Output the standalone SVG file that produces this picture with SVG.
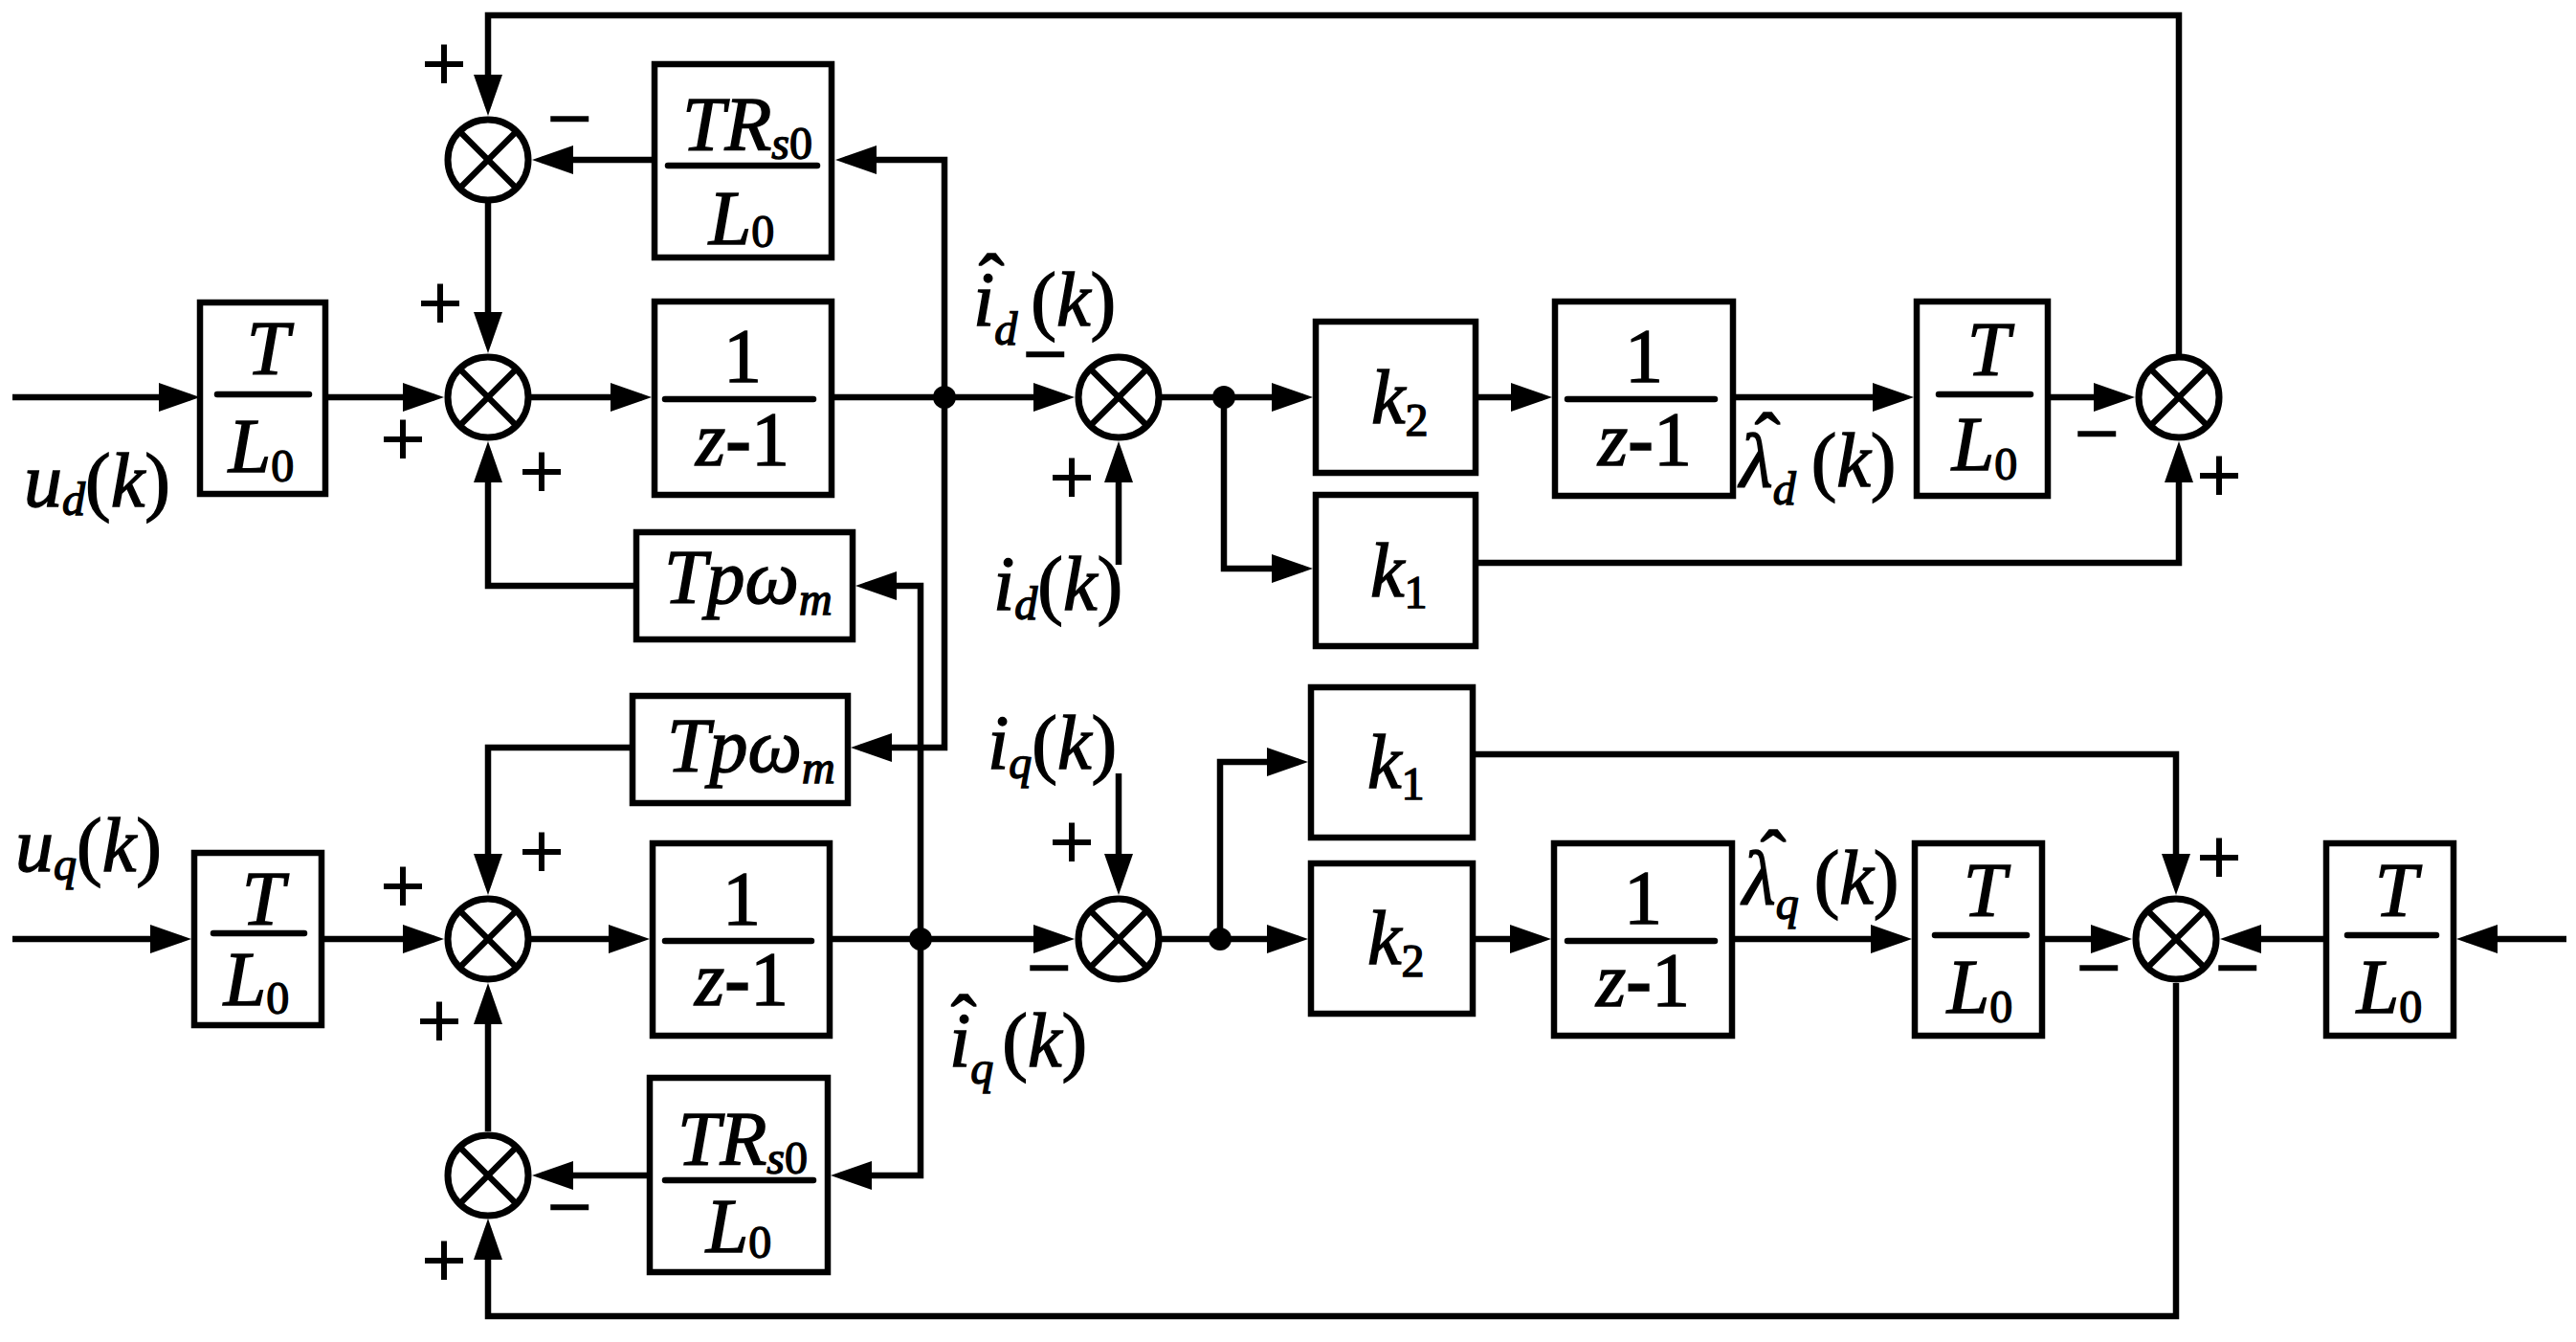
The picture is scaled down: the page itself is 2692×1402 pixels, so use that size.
<svg xmlns="http://www.w3.org/2000/svg" width="2692" height="1402" viewBox="0 0 2692 1402">
<style>
.ln{fill:none;stroke:#000;stroke-width:6.5;stroke-linejoin:miter}
.bx{fill:#fff;stroke:#000;stroke-width:6.5}
.sum{fill:#fff;stroke:#000;stroke-width:7}
.x{stroke:#000;stroke-width:6.5}
.bar{stroke:#000;stroke-width:6.5;stroke-linecap:round}
text{font-family:'Liberation Serif','Times New Roman','DejaVu Serif',serif;fill:#000;stroke:#000;stroke-width:1.4px}
.t{font-size:80px;font-style:italic}
.n{font-style:normal}
.s{font-size:48px}
.b{font-weight:bold}
.sg{font-size:86px;font-style:normal;font-weight:bold;text-anchor:middle;stroke-width:0}
.hat{font-size:80px;font-style:normal;text-anchor:middle}
.m{text-anchor:middle}
</style>
<defs>
<marker id="arr" markerUnits="userSpaceOnUse" markerWidth="44" markerHeight="30" refX="33" refY="15" orient="auto">
<path d="M0,0 L43,15 L0,30 Z" fill="#000"/>
</marker>
<g id="sumshape">
<circle cx="0" cy="0" r="42" class="sum"/>
<line x1="-29.7" y1="-29.7" x2="29.7" y2="29.7" class="x"/>
<line x1="-29.7" y1="29.7" x2="29.7" y2="-29.7" class="x"/>
</g>
</defs>
<rect width="2692" height="1402" fill="#fff"/>

<g id="connectors">
<path class="ln" marker-end="url(#arr)" d="M13,415 H199"/>
<path class="ln" marker-end="url(#arr)" d="M340,415 H454"/>
<path class="ln" marker-end="url(#arr)" d="M552,415 H671"/>
<path class="ln" marker-end="url(#arr)" d="M869,415 H1113"/>
<path class="ln" marker-end="url(#arr)" d="M1212,415 H1362"/>
<path class="ln" marker-end="url(#arr)" d="M1542,415 H1612"/>
<path class="ln" marker-end="url(#arr)" d="M1811,415 H1990"/>
<path class="ln" marker-end="url(#arr)" d="M2140,415 H2221"/>
<path class="ln" marker-end="url(#arr)" d="M2277,370 V16 H510 V111"/>
<path class="ln" marker-end="url(#arr)" d="M510,212 V359"/>
<path class="ln" marker-end="url(#arr)" d="M683,167 H566"/>
<path class="ln" marker-end="url(#arr)" d="M987,415 V167 H883"/>
<path class="ln" marker-end="url(#arr)" d="M987,415 V781 H899"/>
<path class="ln" marker-end="url(#arr)" d="M1279,415 V594 H1362"/>
<path class="ln" marker-end="url(#arr)" d="M1542,588 H2277 V471"/>
<path class="ln" marker-end="url(#arr)" d="M1169,590 V471"/>
<path class="ln" marker-end="url(#arr)" d="M962,981 V612 H904"/>
<path class="ln" marker-end="url(#arr)" d="M665,612 H510 V471"/>

<path class="ln" marker-end="url(#arr)" d="M13,981 H190"/>
<path class="ln" marker-end="url(#arr)" d="M336,981 H454"/>
<path class="ln" marker-end="url(#arr)" d="M552,981 H669"/>
<path class="ln" marker-end="url(#arr)" d="M867,981 H1113"/>
<path class="ln" marker-end="url(#arr)" d="M1169,808 V925"/>
<path class="ln" marker-end="url(#arr)" d="M1212,981 H1357"/>
<path class="ln" marker-end="url(#arr)" d="M1275,981 V796 H1357"/>
<path class="ln" marker-end="url(#arr)" d="M1539,981 H1611"/>
<path class="ln" marker-end="url(#arr)" d="M1810,981 H1988"/>
<path class="ln" marker-end="url(#arr)" d="M2134,981 H2218"/>
<path class="ln" marker-end="url(#arr)" d="M1539,788 H2274 V925"/>
<path class="ln" marker-end="url(#arr)" d="M2682,981 H2577"/>
<path class="ln" marker-end="url(#arr)" d="M2431,981 H2330"/>
<path class="ln" marker-end="url(#arr)" d="M2274,1027 V1375 H510 V1283"/>
<path class="ln" marker-end="url(#arr)" d="M510,1182 V1037"/>
<path class="ln" marker-end="url(#arr)" d="M679,1228 H566"/>
<path class="ln" marker-end="url(#arr)" d="M962,981 V1228 H878"/>
<path class="ln" marker-end="url(#arr)" d="M661,781 H510 V925"/>
<circle cx="987" cy="415" r="12" fill="#000"/>
<circle cx="1279" cy="415" r="12" fill="#000"/>
<circle cx="962" cy="981" r="12" fill="#000"/>
<circle cx="1275" cy="981" r="12" fill="#000"/>
</g>

<g id="sum1"><use href="#sumshape" x="510" y="167"/></g>
<g id="sum2"><use href="#sumshape" x="510" y="415"/></g>
<g id="sum3"><use href="#sumshape" x="1169" y="415"/></g>
<g id="sum4"><use href="#sumshape" x="2277" y="415"/></g>
<g id="sum5"><use href="#sumshape" x="510" y="981"/></g>
<g id="sum6"><use href="#sumshape" x="510" y="1228"/></g>
<g id="sum7"><use href="#sumshape" x="1169" y="981"/></g>
<g id="sum8"><use href="#sumshape" x="2274" y="981"/></g>

<g id="boxA">
<rect x="209" y="316" width="131" height="200" class="bx"/>
<text x="280" y="391" class="t m">T</text>
<line x1="227" y1="412" x2="323" y2="412" class="bar"/>
<text x="273" y="493" class="t m">L<tspan class="s n" dy="10">0</tspan></text>
</g>
<g id="boxB">
<rect x="684" y="315" width="185" height="202" class="bx"/>
<text x="776" y="399" class="t n m">1</text>
<line x1="695" y1="417" x2="850" y2="417" class="bar"/>
<text x="776" y="486" class="t m">z<tspan class="n b">-</tspan><tspan class="n">1</tspan></text>
</g>
<g id="boxE">
<rect x="684" y="67" width="185" height="202" class="bx"/>
<text x="713" y="157" class="t">TR<tspan class="s" dy="9">s</tspan><tspan class="s n">0</tspan></text>
<line x1="698" y1="173" x2="854" y2="173" class="bar"/>
<text x="775" y="255" class="t m">L<tspan class="s n" dy="3">0</tspan></text>
</g>
<g id="boxF">
<rect x="665" y="556" width="226" height="112" class="bx"/>
<text x="694" y="630" class="t">Tpω<tspan class="s" dy="12">m</tspan></text>
</g>
<g id="boxK2d">
<rect x="1375" y="336" width="167" height="158" class="bx"/>
<text x="1433" y="442" class="t">k<tspan class="s n" dy="13">2</tspan></text>
</g>
<g id="boxK1d">
<rect x="1375" y="517" width="167" height="158" class="bx"/>
<text x="1432" y="623" class="t">k<tspan class="s n" dy="12">1</tspan></text>
</g>
<g id="boxC">
<rect x="1625" y="315" width="186" height="203" class="bx"/>
<text x="1718" y="399" class="t n m">1</text>
<line x1="1638" y1="417" x2="1792" y2="417" class="bar"/>
<text x="1719" y="486" class="t m">z<tspan class="n b">-</tspan><tspan class="n">1</tspan></text>
</g>
<g id="boxD">
<rect x="2003" y="315" width="137" height="203" class="bx"/>
<text x="2078" y="392" class="t m">T</text>
<line x1="2026" y1="412" x2="2122" y2="412" class="bar"/>
<text x="2074" y="491" class="t m">L<tspan class="s n" dy="10">0</tspan></text>
</g>

<g id="boxG">
<rect x="203" y="891" width="133" height="180" class="bx"/>
<text x="275" y="966" class="t m">T</text>
<line x1="223" y1="975" x2="318" y2="975" class="bar"/>
<text x="268" y="1050" class="t m">L<tspan class="s n" dy="9">0</tspan></text>
</g>
<g id="boxH">
<rect x="682" y="881" width="185" height="201" class="bx"/>
<text x="775" y="966" class="t n m">1</text>
<line x1="695" y1="983" x2="848" y2="983" class="bar"/>
<text x="775" y="1050" class="t m">z<tspan class="n b">-</tspan><tspan class="n">1</tspan></text>
</g>
<g id="boxL">
<rect x="679" y="1126" width="186" height="203" class="bx"/>
<text x="708" y="1217" class="t">TR<tspan class="s" dy="9">s</tspan><tspan class="s n">0</tspan></text>
<line x1="695" y1="1233" x2="850" y2="1233" class="bar"/>
<text x="772" y="1308" class="t m">L<tspan class="s n" dy="6">0</tspan></text>
</g>
<g id="boxM">
<rect x="661" y="727" width="225" height="112" class="bx"/>
<text x="697" y="806" class="t">Tpω<tspan class="s" dy="12">m</tspan></text>
</g>
<g id="boxK1q">
<rect x="1370" y="718" width="169" height="157" class="bx"/>
<text x="1429" y="823" class="t">k<tspan class="s n" dy="12">1</tspan></text>
</g>
<g id="boxK2q">
<rect x="1370" y="902" width="169" height="157" class="bx"/>
<text x="1429" y="1007" class="t">k<tspan class="s n" dy="13">2</tspan></text>
</g>
<g id="boxI">
<rect x="1624" y="881" width="186" height="201" class="bx"/>
<text x="1717" y="965" class="t n m">1</text>
<line x1="1638" y1="983" x2="1792" y2="983" class="bar"/>
<text x="1717" y="1051" class="t m">z<tspan class="n b">-</tspan><tspan class="n">1</tspan></text>
</g>
<g id="boxJ">
<rect x="2001" y="881" width="133" height="201" class="bx"/>
<text x="2074" y="957" class="t m">T</text>
<line x1="2022" y1="977" x2="2118" y2="977" class="bar"/>
<text x="2069" y="1058" class="t m">L<tspan class="s n" dy="10">0</tspan></text>
</g>
<g id="boxK">
<rect x="2431" y="881" width="133" height="201" class="bx"/>
<text x="2504" y="957" class="t m">T</text>
<line x1="2453" y1="977" x2="2546" y2="977" class="bar"/>
<text x="2497" y="1058" class="t m">L<tspan class="s n" dy="10">0</tspan></text>
</g>

<g id="labels">
<text x="25" y="529" class="t">u<tspan class="s" dy="9">d</tspan><tspan class="n" dy="-9">(</tspan>k<tspan class="n">)</tspan></text>
<text x="16" y="910" class="t">u<tspan class="s" dy="9">q</tspan><tspan class="n" dy="-9">(</tspan>k<tspan class="n">)</tspan></text>
<text x="1017" y="340" class="t">i<tspan class="s" dy="20">d</tspan><tspan class="n" dy="-20" dx="14">(</tspan>k<tspan class="n">)</tspan></text>
<text x="1036" y="321" class="hat">ˆ</text>
<text x="1038" y="637" class="t">i<tspan class="s" dy="10">d</tspan><tspan class="n" dy="-10">(</tspan>k<tspan class="n">)</tspan></text>
<text x="1032" y="803" class="t">i<tspan class="s" dy="10">q</tspan><tspan class="n" dy="-10">(</tspan>k<tspan class="n">)</tspan></text>
<text x="992" y="1114" class="t">i<tspan class="s" dy="18">q</tspan><tspan class="n" dy="-18" dx="9">(</tspan>k<tspan class="n">)</tspan></text>
<text x="1007" y="1095" class="hat">ˆ</text>
<text x="1818" y="508" class="t">λ<tspan class="s" dy="19">d</tspan><tspan class="n" dy="-19" dx="16">(</tspan>k<tspan class="n">)</tspan></text>
<text x="1847" y="487" class="hat">ˆ</text>
<text x="1821" y="944" class="t">λ<tspan class="s" dy="16">q</tspan><tspan class="n" dy="-16" dx="16">(</tspan>k<tspan class="n">)</tspan></text>
<text x="1853" y="923" class="hat">ˆ</text>
</g>

<g id="signs">
<text x="464" y="96" class="sg">+</text>
<text x="595" y="153" class="sg">−</text>
<text x="460" y="346" class="sg">+</text>
<text x="421" y="488" class="sg">+</text>
<text x="566" y="522" class="sg">+</text>
<text x="1092" y="399" class="sg">−</text>
<text x="1120" y="528" class="sg">+</text>
<text x="2191" y="482" class="sg">−</text>
<text x="2319" y="526" class="sg">+</text>
<text x="566" y="919" class="sg">+</text>
<text x="421" y="955" class="sg">+</text>
<text x="459" y="1096" class="sg">+</text>
<text x="595" y="1290" class="sg">−</text>
<text x="464" y="1346" class="sg">+</text>
<text x="1120" y="909" class="sg">+</text>
<text x="1096" y="1040" class="sg">−</text>
<text x="2319" y="925" class="sg">+</text>
<text x="2193" y="1040" class="sg">−</text>
<text x="2338" y="1040" class="sg">−</text>
</g>
</svg>
